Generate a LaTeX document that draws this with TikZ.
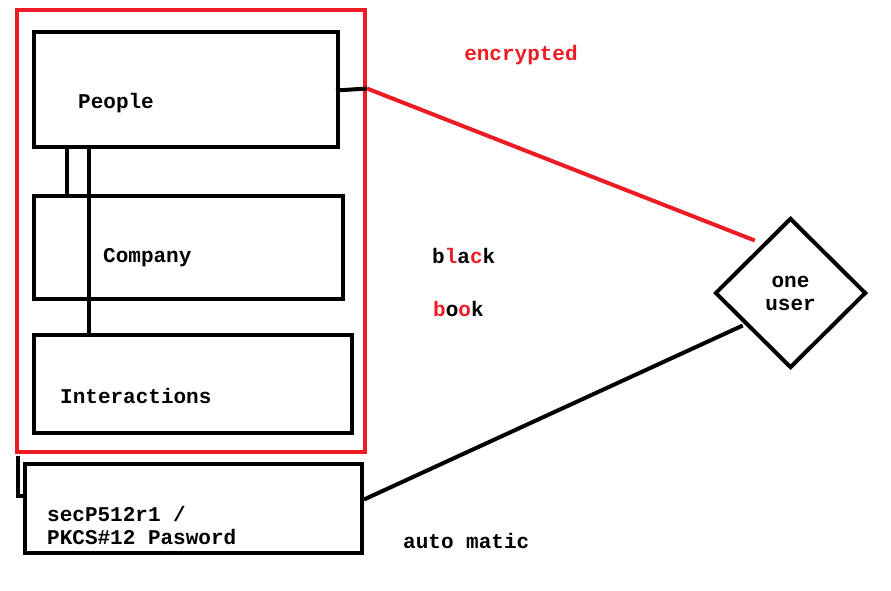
\documentclass[tikz,border=0pt]{standalone}
\usepackage{fontspec}
\newfontfamily\paintfont{Liberation Mono}
\usetikzlibrary{shapes.geometric, positioning}
\definecolor{paintred}{RGB}{237,28,36}
\tikzset{
	every node/.style={
		font=\paintfont\bfseries\fontsize{21}{25}\selectfont
	},
	box/.style={
		shape=rectangle,
		draw,
		line width=4pt,
		inner sep=0pt
	},
	vault/.style={
		shape=rectangle,
		draw=paintred,
		line width=4pt,
		inner sep=0pt
	},
	userbox/.style={
		shape=diamond,
		draw,
		line width=4pt,
		inner sep=0pt,
		align=center
	},
	caption/.style={
		anchor=west,
		inner sep=0pt,
		align=left
	},
	link/.style={
		line width=4pt
	}
}

\begin{document}
\begin{tikzpicture}[x=1pt, y=-1pt]
	\useasboundingbox (0,0) rectangle (891,591);
	
	\node[vault, minimum width=348pt, minimum height=442pt] (store) at (191,231) {};
	\node[box, minimum width=304pt, minimum height=115pt] (people) at (186,89.5) {};
	\node[box, minimum width=309pt, minimum height=103pt] (company) at (188.5,247.5) {};
	\node[box, minimum width=318pt, minimum height=98pt] (interactions) at (193,384) {};
	\node[box, minimum width=337pt, minimum height=89pt] (keybox) at (193.5,508.5) {};
	\node[userbox, minimum width=151pt, minimum height=150pt] (user) at (790.5,293) {one\\[-2pt]user};
	
	\node[caption] (peoplelabel) at (78,103) {People};
	\node[caption] (companylabel) at (103,258) {Company};
	\node[caption] (interactionslabel) at (60,396) {Interactions};
	\node[caption] (keylabel) at (47,525) {secP512r1 /\\[-2pt]PKCS\#12 Pasword};
	
	\node[text=paintred] (encrypted) at (521,55) {encrypted};
	\node[caption] (black) at (432,256) {b{\color{paintred}l}a{\color{paintred}c}k};
	\node[caption] (book) at (433,309) {{\color{paintred}b}o{\color{paintred}o}k};
	\node[caption] (automatic) at (403,541) {auto matic};
	
	% links between the tables
	\draw[link] ([xshift=35pt]people.south west) -- ([xshift=35pt]company.north west);
	\draw[link] ([xshift=57pt]people.south west) -- ([xshift=57pt]interactions.north west);
	\draw[link] ([xshift=-4pt, yshift=-1pt]people.east) -- ([yshift=1pt]people.east -| store.east);
	\draw[link] ([xshift=3pt, yshift=-2pt]store.south west) |- ([yshift=13pt]keybox.west);
	
	\draw[link, draw=paintred] ([yshift=1pt]people.east -| store.east) -- ([yshift=14pt, xshift=3pt]user.north west);
	\draw[link] ([yshift=9pt]keybox.east) -- ([xshift=-9pt, yshift=6pt]user.south west);
\end{tikzpicture}
\end{document}
